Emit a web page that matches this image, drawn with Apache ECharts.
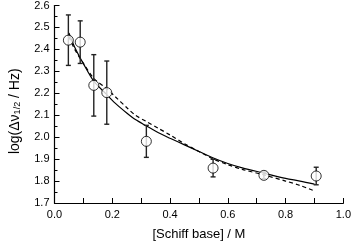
<!DOCTYPE html>
<html><head><meta charset="utf-8">
<script src="https://cdn.jsdelivr.net/npm/echarts@6/dist/echarts.min.js"></script>
<style>html,body{margin:0;padding:0;background:#fff}#c{width:354px;height:246px}</style>
</head><body><div id="c"></div>
<script>
// measured points
var conc = [0.048, 0.089, 0.136, 0.181, 0.318, 0.549, 0.725, 0.906];
var logW = [2.442, 2.433, 2.236, 2.203, 1.981, 1.859, 1.826, 1.823];
var errs = [0.115, 0.097, 0.140, 0.144, 0.073, 0.040, 0.015, 0.040];
// fitted curves
var fitX      = [0.05, 0.07, 0.1, 0.136, 0.18, 0.21, 0.25, 0.28, 0.32, 0.36, 0.4, 0.45, 0.5, 0.55, 0.6, 0.65, 0.725, 0.8, 0.85, 0.9];
var fitSolid  = [2.475, 2.41, 2.335, 2.255, 2.195, 2.155, 2.11, 2.08, 2.05, 2.02, 1.995, 1.965, 1.935, 1.905, 1.88, 1.86, 1.836, 1.812, 1.80, 1.786];
var fitDashed = [2.458, 2.40, 2.337, 2.268, 2.222, 2.185, 2.135, 2.10, 2.07, 2.04, 2.01, 1.97, 1.935, 1.90, 1.875, 1.853, 1.828, 1.800, 1.78, 1.755];
var xTicks = ['0.0','0.2','0.4','0.6','0.8','1.0'];

function pairs(xs, ys){ return xs.map(function(x,i){ return [x, ys[i]]; }); }
var chart = echarts.init(document.getElementById('c'), null, {renderer:'canvas'});
var font = 'Liberation Sans, Arial, sans-serif';
chart.setOption({
  animation:false,
  grid:{left:46, right:7, top:5, bottom:40, containLabel:false},
  xAxis:{type:'value', min:0, max:1, interval:0.2,
    axisLine:{lineStyle:{color:'#000', width:1.2}},
    axisTick:{inside:true, length:5, lineStyle:{color:'#000'}},
    minorTick:{show:true, splitNumber:2, length:5, lineStyle:{color:'#000'}},
    splitLine:{show:false},
    axisLabel:{color:'#000', fontFamily:font, fontSize:11, margin:6,
      formatter:function(v){ return xTicks[Math.round(v/0.2)]; }},
    name:'[Schiff base] / M', nameLocation:'middle', nameGap:25,
    nameTextStyle:{color:'#000', fontFamily:font, fontSize:13}
  },
  yAxis:{type:'value', min:1.7, max:2.6, interval:0.1,
    axisLine:{show:true, lineStyle:{color:'#000', width:1.2}},
    axisTick:{show:true, inside:true, length:5, lineStyle:{color:'#000'}},
    minorTick:{show:true, splitNumber:2, length:3, lineStyle:{color:'#000'}},
    splitLine:{show:false},
    axisLabel:{color:'#000', fontFamily:font, fontSize:11, margin:5,
      formatter:function(v){ return v.toFixed(1); }},
    name:'{a|log(Δν}{s|1/2}{a| / Hz)}', nameLocation:'middle', nameGap:32, nameRotate:90,
    nameTextStyle:{color:'#000', fontFamily:font, fontSize:14, padding:[0,14,0,0],
      rich:{a:{fontFamily:font, fontSize:14, color:'#000'}, s:{fontFamily:font, fontSize:9, color:'#000', verticalAlign:'bottom', padding:[6,0,0,0]}}}
  },
  series:[
    {type:'line', data:pairs(fitX, fitSolid), smooth:0.3, showSymbol:false,
      lineStyle:{color:'#000', width:1.2}, z:2},
    {type:'line', data:pairs(fitX, fitDashed), smooth:0.3, showSymbol:false,
      lineStyle:{color:'#000', width:1.2, type:[4,3]}, z:2},
    {type:'custom', z:3, data:conc.map(function(x,i){ return [x, logW[i]-errs[i], logW[i]+errs[i]]; }),
      renderItem:function(params, api){
        var lo = api.coord([api.value(0), api.value(1)]);
        var hi = api.coord([api.value(0), api.value(2)]);
        var w = 2.5;
        var st = {stroke:'#222', lineWidth:1.4};
        return {type:'group', children:[
          {type:'line', shape:{x1:lo[0], y1:lo[1], x2:hi[0], y2:hi[1]}, style:st},
          {type:'line', shape:{x1:lo[0]-w, y1:lo[1], x2:lo[0]+w, y2:lo[1]}, style:st},
          {type:'line', shape:{x1:hi[0]-w, y1:hi[1], x2:hi[0]+w, y2:hi[1]}, style:st}
        ]};
      }},
    {type:'scatter', data:pairs(conc, logW), symbol:'circle', symbolSize:10, z:5,
      itemStyle:{color:'#fff', borderColor:'#000', borderWidth:1}}
  ]
});
</script></body></html>
